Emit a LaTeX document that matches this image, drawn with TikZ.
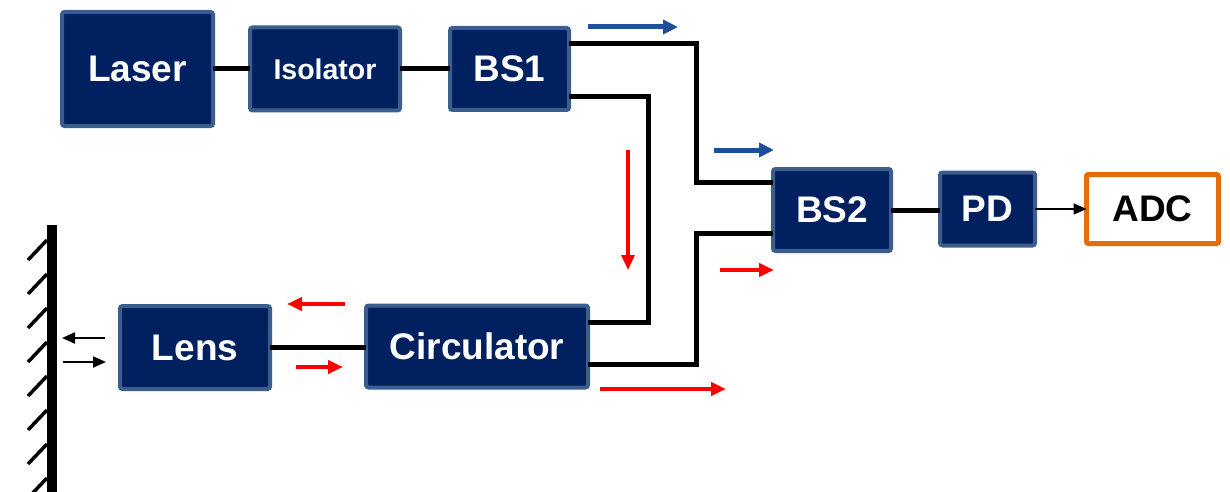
\documentclass[tikz,border=0pt]{standalone}
\usepackage{fontspec}
\setmainfont{Liberation Sans}
\usetikzlibrary{arrows.meta}
\definecolor{navy}{HTML}{002060}
\definecolor{steel}{HTML}{3B5E8C}
\definecolor{arrowblue}{HTML}{1F4E9A}
\definecolor{adcorange}{HTML}{E46C0A}
\tikzset{
  blk/.style={draw=steel, fill=navy, line width=4pt, rounded corners=2.5pt, outer sep=0pt,
    text=white, font=\bfseries\fontsize{37}{42}\selectfont, inner sep=0pt},
  conn/.style={line width=5pt, draw=black},
  bluearr/.style={draw=arrowblue, line width=5pt, -{Triangle[length=15pt,width=14pt]}},
  redarr/.style={draw=red, line width=4pt, -{Triangle[length=15pt,width=13pt]}},
  blkarr/.style={draw=black, line width=2pt, -{Triangle[length=13pt,width=11pt]}},
}
\begin{document}
\begin{tikzpicture}[x=1pt,y=-1pt]
\useasboundingbox (0,0) rectangle (1230,492);
% blocks
\node[blk, minimum width=151pt, minimum height=114pt] (laser) at (137.5,69) {Laser};
\node[blk, minimum width=150pt, minimum height=83pt, font=\bfseries\fontsize{28.5}{32}\selectfont] (iso) at (325,69) {Isolator};
\node[blk, minimum width=119pt, minimum height=82pt] (bs1) at (509.5,69) {BS1};
\node[blk, minimum width=118pt, minimum height=82pt] (bs2) at (832,210) {BS2};
\node[blk, minimum width=95pt, minimum height=73pt] (pd) at (987.5,209) {PD};
\node[draw=adcorange, fill=white, line width=5pt, rounded corners=2pt, outer sep=0pt,
      minimum width=132pt, minimum height=69pt, font=\bfseries\fontsize{37}{42}\selectfont] (adc) at (1152.5,209) {ADC};
\node[blk, minimum width=150pt, minimum height=83pt] (lens) at (195,347.5) {Lens};
\node[blk, minimum width=222pt, minimum height=82pt] (circ) at (477,346.5) {Circulator};
% connectors
\draw[conn] (laser.east) -- (laser.east -| iso.west);
\draw[conn] (iso.east) -- (iso.east -| bs1.west);
\draw[conn] (lens.east) -- (lens.east -| circ.west);
\draw[conn] (bs2.east) -- (bs2.east -| pd.west);
\draw[blkarr] (pd.east) -- (pd.east -| adc.west);
\draw[conn] ([yshift=25pt]bs1.east) -- ++(127pt,0) |- ([yshift=28pt]bs2.west);
\draw[conn] ([yshift=-28pt]bs1.east) -- ++(79pt,0) |- ([yshift=24pt]circ.east);
\draw[conn] ([yshift=-18pt]circ.east) -- ++(108pt,0) |- ([yshift=-23pt]bs2.west);
% direction arrows
\draw[bluearr] (588,27) -- (678,27);
\draw[bluearr] (714,150) -- (774,150);
\draw[redarr, line width=3.5pt] (628,150) -- (628,270);
\draw[redarr] (720,270) -- (774,270);
\draw[redarr] (345,304) -- (287,304);
\draw[redarr] (296,367) -- (343,367);
\draw[redarr] (600,389) -- (726,389);
\draw[blkarr] (105,338) -- (62,338);
\draw[blkarr] (63,362) -- (106,362);
% mirror
\draw[line width=10pt] (52,225) -- (52,492);
\foreach \y in {240,274,308,342,376,410,444,478}
  \draw[line width=3.5pt] (28,\y+20) -- (47,\y);
\end{tikzpicture}
\end{document}
